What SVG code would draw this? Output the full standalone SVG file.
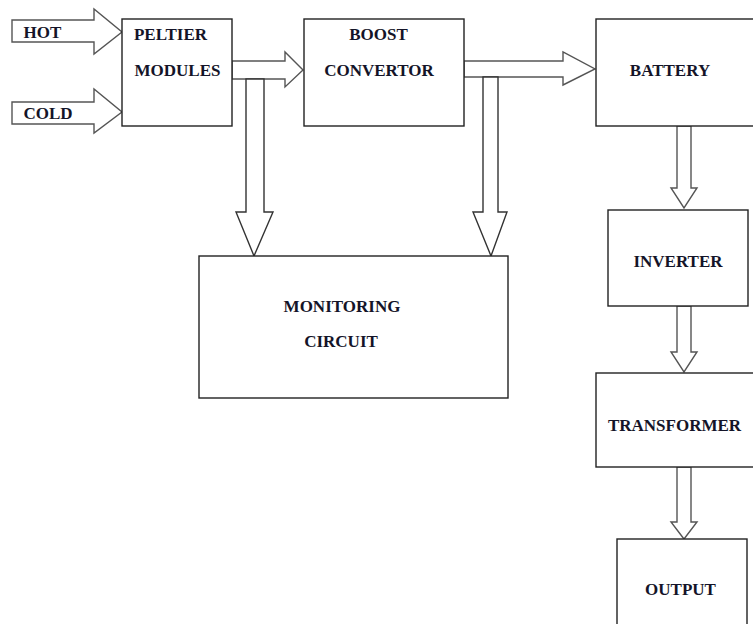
<svg xmlns="http://www.w3.org/2000/svg" width="753" height="624" viewBox="0 0 753 624">
<style>
.box{fill:#fff;stroke:#222;stroke-width:1.4}
.arr{fill:#fff;stroke:#555;stroke-width:1.4;stroke-linejoin:miter}
.arrd{fill:#fff;stroke:#333;stroke-width:1.4}
text{font-family:"Liberation Serif","Times New Roman",serif;font-weight:bold;font-size:17px;fill:#141428;text-anchor:middle}
</style>
<rect width="753" height="624" fill="#fff"/>
<g id="connectors">
<polygon class="arr" points="12,20 94,20 94,9 122,32 94,54 94,42 12,42"/>
<polygon class="arr" points="12,102 94,102 94,89 122,112 94,133 94,124 12,124"/>
<polygon class="arr" points="232,61 285,61 285,52 303,70 285,87 285,79 232,79"/>
<polygon class="arrd" points="246,79 264,79 264,212 273,212 254,256 236,212 246,212"/>
<polygon class="arr" points="464,61 563,61 563,52 595,69 563,85 563,77 464,77"/>
<polygon class="arrd" points="483,77 498,77 498,212 507,212 491,256 473,212 483,212"/>
<polygon class="arr" points="677,126 691,126 691,188 697,188 684,208 671,188 677,188"/>
<polygon class="arr" points="677,306 691,306 691,352 697,352 684,372 671,352 677,352"/>
<polygon class="arr" points="677,467 691,467 691,522 697,522 684,539 671,522 677,522"/>
</g>
<g id="hot"><text x="42.5" y="38">HOT</text></g>
<g id="cold"><text x="48" y="119">COLD</text></g>
<g id="peltier"><rect class="box" x="122" y="19" width="110" height="107"/><text x="170.5" y="40">PELTIER</text><text x="177.5" y="76">MODULES</text></g>
<g id="boost"><rect class="box" x="304" y="19" width="160" height="107"/><text x="378.5" y="40">BOOST</text><text x="379" y="76">CONVERTOR</text></g>
<g id="battery"><rect class="box" x="596" y="19" width="160" height="107"/><text x="670" y="76">BATTERY</text></g>
<g id="monitoring"><rect class="box" x="199" y="256" width="309" height="142"/><text x="342" y="312">MONITORING</text><text x="341" y="347">CIRCUIT</text></g>
<g id="inverter"><rect class="box" x="608" y="210" width="140" height="96"/><text x="678" y="267">INVERTER</text></g>
<g id="transformer"><rect class="box" x="596" y="373" width="160" height="94"/><text x="674.5" y="431">TRANSFORMER</text></g>
<g id="output"><rect class="box" x="617" y="539" width="130" height="90"/><text x="680.5" y="595">OUTPUT</text></g>
</svg>
